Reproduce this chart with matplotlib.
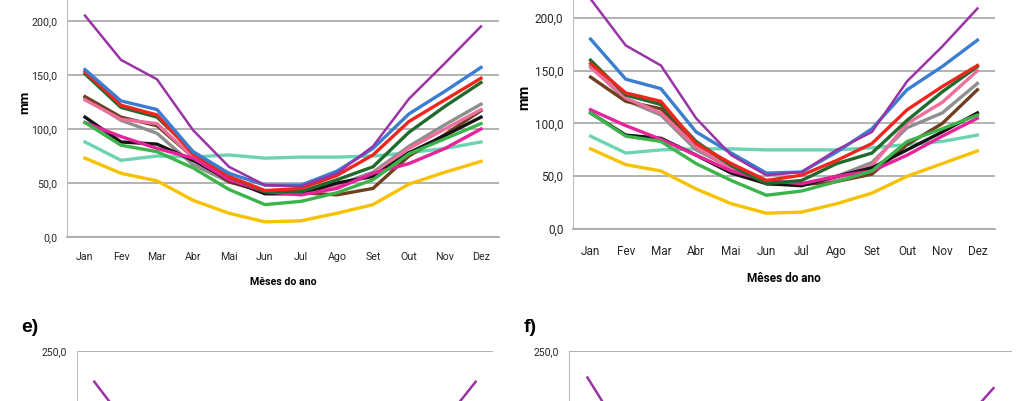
import matplotlib.pyplot as plt

# dados (mm por mes)
meses = ['Jan', 'Fev', 'Mar', 'Abr', 'Mai', 'Jun', 'Jul', 'Ago', 'Set', 'Out', 'Nov', 'Dez']
y_ticks = [0, 50, 100, 150, 200, 250]
y_tick_labels = ['0,0', '50,0', '100,0', '150,0', '200,0', '250,0']

# painel c)
c_roxo = [205, 164, 146, 99, 65, 48, 47, 59, 84, 128, 161, 195]
c_azul = [155, 126, 118, 79, 59, 48, 48, 61, 82, 114, 135, 157]
c_vermelho = [153, 122, 113, 77, 56, 43, 45, 57, 76, 107, 127, 147]
c_verde_escuro = [151, 120, 111, 79, 56, 42, 42, 53, 65, 97, 121, 143]
c_cinza = [129, 108, 96, 67, 51, 42, 42, 48, 60, 84, 104, 123]
c_marrom = [130, 111, 103, 74, 51, 42, 41, 39, 45, 75, 95, 117]
c_rosa = [127, 109, 105, 74, 54, 42, 40, 47, 58, 82, 100, 118]
c_preto = [111, 88, 86, 71, 53, 40, 40, 50, 56, 78, 94, 111]
c_verde = [106, 85, 79, 64, 44, 30, 33, 41, 53, 77, 91, 105]
c_magenta = [106, 93, 82, 73, 53, 42, 39, 45, 59, 68, 82, 100]
c_turquesa = [88, 71, 75, 74, 76, 73, 74, 74, 75, 78, 82, 88]
c_amarelo = [73, 59, 52, 34, 22, 14, 15, 22, 30, 49, 60, 70]

# painel d)
d_roxo = [218, 174, 155, 105, 70, 51, 54, 75, 92, 140, 173, 209]
d_azul = [180, 142, 133, 92, 72, 53, 54, 73, 95, 132, 154, 179]
d_vermelho = [157, 129, 121, 81, 62, 46, 51, 65, 81, 113, 135, 155]
d_verde_escuro = [160, 127, 118, 83, 60, 43, 46, 62, 72, 103, 130, 154]
d_cinza = [155, 122, 108, 75, 58, 43, 42, 50, 63, 96, 110, 138]
d_marrom = [144, 121, 114, 80, 58, 43, 42, 45, 52, 80, 100, 132]
d_rosa = [153, 124, 110, 78, 57, 44, 43, 48, 60, 100, 120, 150]
d_preto = [110, 89, 86, 70, 53, 43, 41, 50, 58, 75, 92, 110]
d_verde = [110, 88, 83, 62, 46, 32, 36, 45, 55, 83, 95, 108]
d_magenta = [113, 98, 85, 70, 55, 46, 43, 50, 55, 70, 88, 105]
d_turquesa = [88, 72, 75, 76, 76, 75, 75, 75, 77, 80, 83, 89]
d_amarelo = [76, 61, 55, 38, 24, 15, 16, 24, 34, 50, 62, 74]

# paineis e) e f): so o inicio da serie roxa aparece
e_roxo = [221, 178, 160, 110, 72, 52, 54, 74, 95, 140, 180, 221]
f_roxo = [225, 169, 158, 108, 72, 52, 55, 76, 96, 140, 176, 215]

cores = {
    'turquesa': '#6DD3B5', 'amarelo': '#F6C200', 'cinza': '#8E8E8E',
    'marrom': '#6E4020', 'rosa': '#EE6E9E', 'preto': '#141414',
    'magenta': '#E5239B', 'verde_escuro': '#1F6B2B', 'vermelho': '#F0261E',
    'azul': '#3B7DD0', 'verde': '#3CB44B', 'roxo': '#9933A6',
}

W, H = 1024, 401
plt.rcParams['font.family'] = ['Roboto', 'DejaVu Sans']
fig = plt.figure(figsize=(W / 100, H / 100), dpi=100)


def eixo(l, t, r, b, fs, pad_x=11, pad_lab=9, mm_x=30):
    ax = fig.add_axes([l / W, 1 - b / H, (r - l) / W, (b - t) / H])
    ax.set_xlim(-0.5, 11.5)
    ax.set_ylim(0, 250)
    ax.set_yticks(y_ticks)
    ax.set_yticklabels(y_tick_labels)
    ax.set_xticks(range(12))
    ax.set_xticklabels(meses)
    ax.tick_params(length=0, labelsize=fs, colors='#262626')
    ax.tick_params(axis='y', pad=7)
    ax.tick_params(axis='x', pad=pad_x)
    ax.grid(axis='y', color='#A6A6A6', linewidth=1.2)
    ax.set_axisbelow(True)
    for s in ['top', 'right']:
        ax.spines[s].set_visible(False)
    ax.spines['left'].set_color('#BFBFBF')
    ax.spines['bottom'].set_color('#A6A6A6')
    ax.spines['bottom'].set_linewidth(1.2)
    ax.set_xlabel('Mêses do ano', fontsize=fs, fontweight='bold', labelpad=pad_lab)
    ax.set_ylabel('mm', fontsize=fs + 2, fontweight='bold')
    ax.yaxis.set_label_coords((mm_x - l) / (r - l), 0.5)
    return ax


def desenha(ax, series):
    for nome, vals in series:
        lw = 1.8 if nome == 'roxo' else 2.4
        ax.plot(range(12), vals, color=cores[nome], linewidth=lw)


ax_c = eixo(67, -33, 499, 237, 7.7, pad_x=10.5, pad_lab=11, mm_x=31)
desenha(ax_c, [('turquesa', c_turquesa), ('amarelo', c_amarelo), ('cinza', c_cinza),
               ('marrom', c_marrom), ('rosa', c_rosa), ('preto', c_preto),
               ('magenta', c_magenta), ('verde', c_verde), ('verde_escuro', c_verde_escuro),
               ('vermelho', c_vermelho), ('azul', c_azul), ('roxo', c_roxo)])

ax_d = eixo(573, -34.75, 995, 229, 8.5, pad_x=11.5, pad_lab=10, mm_x=531)
desenha(ax_d, [('turquesa', d_turquesa), ('amarelo', d_amarelo), ('cinza', d_cinza),
               ('marrom', d_marrom), ('rosa', d_rosa), ('preto', d_preto),
               ('magenta', d_magenta), ('verde', d_verde), ('verde_escuro', d_verde_escuro),
               ('vermelho', d_vermelho), ('azul', d_azul), ('roxo', d_roxo)])

ax_e = eixo(77, 351, 493, 616, 7.5, mm_x=30)
desenha(ax_e, [('roxo', e_roxo)])

ax_f = eixo(569, 351, 1012, 616, 7.5, mm_x=522)
desenha(ax_f, [('roxo', f_roxo)])

fig.text(21 / W, 1 - 328 / H, 'e)', fontsize=14, fontweight='bold',
         family=['Liberation Sans', 'DejaVu Sans'], va='center')
fig.text(524 / W, 1 - 328 / H, 'f)', fontsize=14, fontweight='bold',
         family=['Liberation Sans', 'DejaVu Sans'], va='center')

fig.savefig('out.png', dpi=100)
